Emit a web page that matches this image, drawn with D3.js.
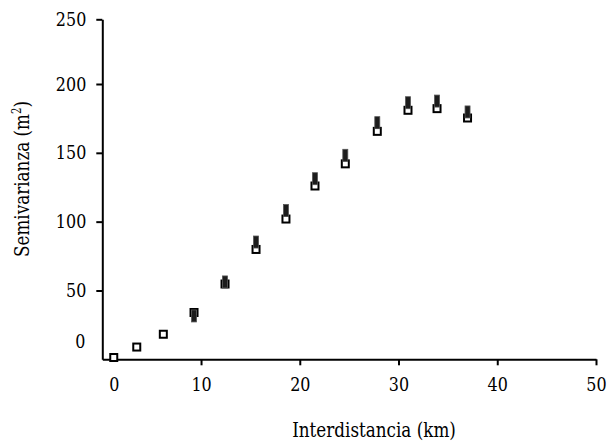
<!DOCTYPE html>
<html>
<head>
<meta charset="utf-8">
<script src="https://cdn.jsdelivr.net/npm/d3@7"></script>
<style>
  body { margin: 0; background: #fff; }
</style>
</head>
<body>
<div id="chart"></div>
<script>
// lag distance (km)
const lags = [1.16, 3.49, 6.18, 9.29, 12.43, 15.57, 18.6, 21.54, 24.61, 27.85, 30.96, 33.9, 36.99];
// experimental semivariance (open squares)
const semivar = [1.3, 8.9, 18.2, 34.0, 54.7, 79.8, 101.9, 125.9, 142.0, 165.6, 180.9, 182.1, 175.3];
// second series (dark bars), starts at the 4th lag
const semivar2 = [null, null, null, 31.5, 56.2, 85.2, 108.1, 131.2, 148.2, 171.9, 186.4, 187.6, 179.7];

const xTicks = [0, 10, 20, 30, 40, 50];
const yTicks = [0, 50, 100, 150, 200, 250];

const xTitle = "Interdistancia (km)";
const yTitle = "Semivarianza (m";

// only serif face available here is DejaVu, squeeze it to look closer to Times
const serif = '"DejaVu Serif", serif';
const squeeze = 0.84;

function drawChart(selector) {
  const width = 610, height = 442;

  const svg = d3.select(selector).append("svg")
    .attr("width", width)
    .attr("height", height)
    .style("font-family", serif);

  const x = d3.scaleLinear().domain([0, 50]).range([102.3, 596]);
  // top segment of the original axis is a bit compressed
  const y = d3.scaleLinear().domain([0, 200, 250]).range([359.3, 84, 19.3]);

  // y axis
  const yAxis = svg.append("g")
    .attr("transform", `translate(${x(0)},0)`)
    .call(d3.axisLeft(y).tickValues(yTicks).tickSize(6).tickSizeOuter(0).tickPadding(10));

  // x axis
  const xAxis = svg.append("g")
    .attr("transform", `translate(0,${y(0)})`)
    .call(d3.axisBottom(x).tickValues(xTicks).tickSize(6).tickSizeOuter(0).tickPadding(12));

  [xAxis, yAxis].forEach(a => {
    a.attr("font-family", null).attr("font-size", 19);
    a.select(".domain").attr("stroke", "#000").attr("stroke-width", 2);
    a.selectAll(".tick line").attr("stroke", "#000").attr("stroke-width", 2);
    a.selectAll(".tick text").attr("fill", "#000").style("font-family", serif);
  });

  yAxis.selectAll(".tick text")
    .attr("x", 0)
    .attr("transform", d => d === 0
      ? `translate(-17,-17.6) scale(${squeeze},1)`   // zero label sits above the axis
      : `translate(-16,0) scale(${squeeze},1)`);
  xAxis.selectAll(".tick text")
    .attr("transform", d => d === 0
      ? `translate(11.5,0) scale(${squeeze},1)`
      : `scale(${squeeze},1)`);

  // no tick marks at zero
  yAxis.selectAll(".tick").filter(d => d === 0).select("line").remove();
  xAxis.selectAll(".tick").filter(d => d === 0).select("line").remove();

  const pts = lags.map((d, i) => ({ lag: d, v: semivar[i], v2: semivar2[i] }));

  // open squares
  svg.append("g").selectAll("rect")
    .data(pts)
    .enter()
    .append("rect")
    .attr("x", d => x(d.lag) - 3.5)
    .attr("y", d => y(d.v) - 3.5)
    .attr("width", 7)
    .attr("height", 7)
    .attr("fill", "#fff")
    .attr("stroke", "#000")
    .attr("stroke-width", 2);

  // dark bar markers
  svg.append("g").selectAll("rect")
    .data(pts.filter(d => d.v2 != null))
    .enter()
    .append("rect")
    .attr("x", d => x(d.lag) - 2.5)
    .attr("y", d => y(d.v2) - 6)
    .attr("width", 5)
    .attr("height", 12)
    .attr("fill", "#1c1c1c")
    .attr("stroke", "#555")
    .attr("stroke-width", 0.8);

  // axis titles
  svg.append("text")
    .attr("transform", `translate(374,437) scale(${squeeze},1)`)
    .attr("text-anchor", "middle")
    .attr("font-size", 20)
    .text(xTitle);

  const yt = svg.append("text")
    .attr("transform", `translate(29,179) rotate(-90) scale(${squeeze},1)`)
    .attr("text-anchor", "middle")
    .attr("font-size", 20)
    .text(yTitle);
  yt.append("tspan").attr("font-size", 12).attr("dy", "-0.7em").text("2");
  yt.append("tspan").attr("dy", "0.42em").text(")");
}

drawChart("#chart");
</script>
</body>
</html>
